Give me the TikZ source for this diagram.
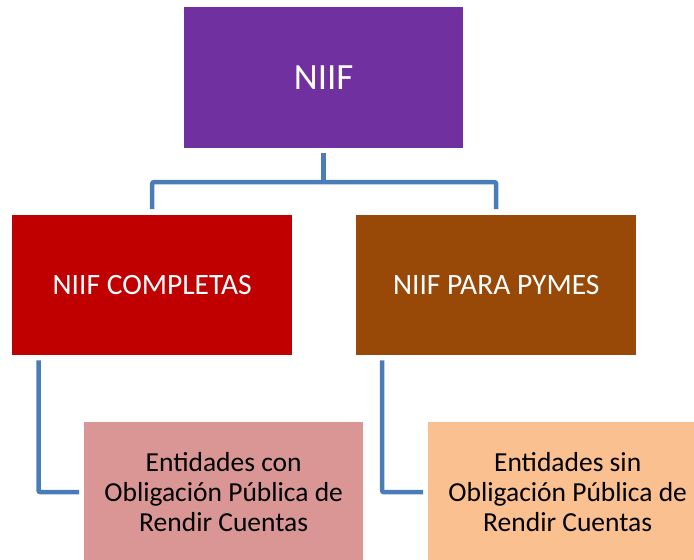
\documentclass[tikz,border=0pt]{standalone}
\usepackage{fontspec}
\setmainfont{Carlito}
\definecolor{niifpurple}{HTML}{7030A0}
\definecolor{niifred}{HTML}{C00000}
\definecolor{niifbrown}{HTML}{984807}
\definecolor{niifpink}{HTML}{D99694}
\definecolor{niifpeach}{HTML}{FAC090}
\definecolor{linkblue}{HTML}{4A7DB7}
\begin{document}
\begin{tikzpicture}[x=1pt,y=-1pt,
  box/.style={minimum width=279pt, minimum height=140pt, inner sep=0pt, align=center, anchor=north west},
  upper/.style={box, text=white, font=\fontsize{29.5}{32}\selectfont},
  lower/.style={box, text=black, font=\fontsize{27.5}{30}\selectfont},
  link/.style={draw=linkblue, line width=4.5pt, rounded corners=2pt}]
\useasboundingbox (0,0) rectangle (694,560);
\clip (0,0) rectangle (694,560);
\node[box, fill=niifpurple, text=white, font=\fontsize{37}{40}\selectfont, minimum height=141pt] (niif) at (184,7) {NIIF};
\node[upper, fill=niifred, minimum width=280pt] (full) at (12,215) {NIIF COMPLETAS};
\node[upper, fill=niifbrown, minimum width=280pt] (pymes) at (356,215) {NIIF PARA PYMES};
\node[lower, fill=niifpink] (con) at (84,422) {Entidades con\\Obligación Pública de\\Rendir Cuentas};
\node[lower, fill=niifpeach] (sin) at (428,422) {Entidades sin\\Obligación Pública de\\Rendir Cuentas};
\draw[link] ([yshift=-5pt]niif.south) -- (niif.south |- 0,182) coordinate (hub);
\draw[link] (full.north |- 0,209) -- (full.north |- hub) -- (pymes.north |- hub) -- (pymes.north |- 0,209);
\draw[link] ([xshift=26.5pt,yshift=-5pt]full.south west) |- ([xshift=-5pt]con.west);
\draw[link] ([xshift=26pt,yshift=-5pt]pymes.south west) |- ([xshift=-5pt]sin.west);
\end{tikzpicture}
\end{document}
